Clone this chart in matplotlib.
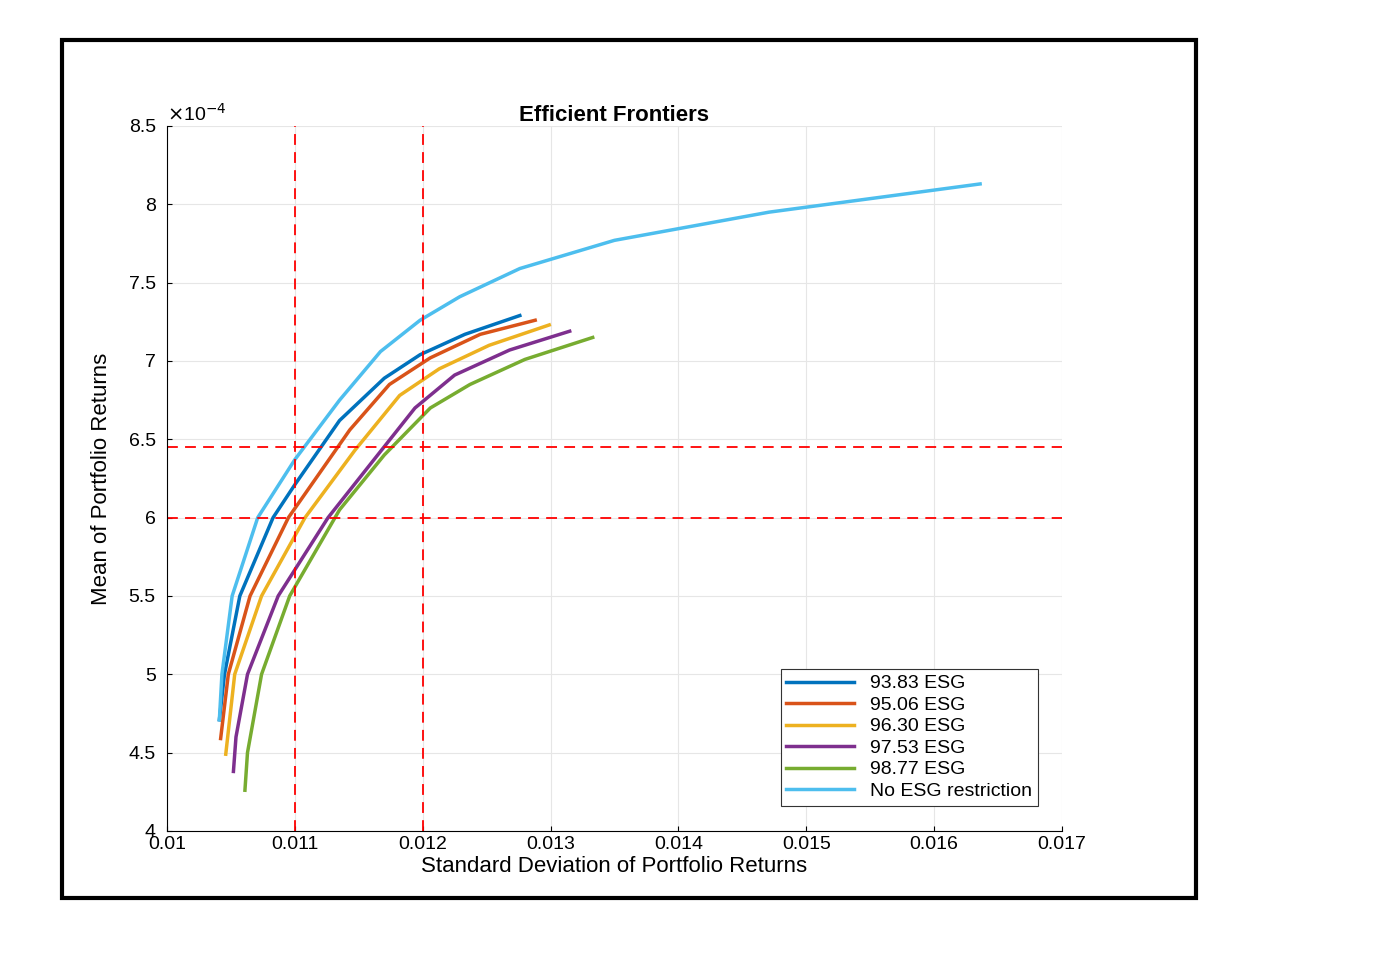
import matplotlib
matplotlib.use('Agg')
from matplotlib import pyplot as plt
from matplotlib.patches import Rectangle

plt.rcParams['font.family'] = ['Liberation Sans', 'DejaVu Sans']

# std dev / mean (x1e-4)
no_esg_x = [0.01041, 0.01043, 0.01051, 0.01071, 0.0110, 0.01135, 0.01167, 0.01198, 0.01229, 0.01276, 0.01350, 0.01471, 0.01636]
no_esg_y = [4.71, 5.0, 5.5, 6.0, 6.37, 6.75, 7.06, 7.26, 7.41, 7.59, 7.77, 7.95, 8.13]
esg9383_x = [0.01041, 0.01045, 0.01057, 0.01083, 0.0110, 0.01135, 0.0117, 0.01198, 0.01233, 0.01276]
esg9383_y = [4.71, 5.0, 5.5, 6.0, 6.21, 6.62, 6.89, 7.04, 7.17, 7.29]
esg9506_x = [0.01042, 0.01048, 0.01065, 0.01095, 0.01143, 0.01174, 0.01206, 0.01245, 0.01288]
esg9506_y = [4.59, 5.0, 5.5, 6.0, 6.56, 6.85, 7.02, 7.17, 7.26]
esg9630_x = [0.01046, 0.01053, 0.01074, 0.01108, 0.01147, 0.01182, 0.01213, 0.01252, 0.01299]
esg9630_y = [4.49, 5.0, 5.5, 6.0, 6.43, 6.78, 6.95, 7.10, 7.23]
esg9753_x = [0.01052, 0.01054, 0.01063, 0.01087, 0.01126, 0.01159, 0.01194, 0.01225, 0.01268, 0.01315]
esg9753_y = [4.38, 4.6, 5.0, 5.5, 6.0, 6.34, 6.70, 6.91, 7.07, 7.19]
esg9877_x = [0.01061, 0.01063, 0.01074, 0.01096, 0.01135, 0.0117, 0.01206, 0.01237, 0.0128, 0.01333]
esg9877_y = [4.26, 4.5, 5.0, 5.5, 6.05, 6.40, 6.70, 6.85, 7.01, 7.15]

vcuts = [0.011, 0.012]
hcuts = [6.45, 6.0]

fig = plt.figure(figsize=(13.82, 9.58), dpi=100)
fig.patches.append(Rectangle((62/1382, 1-898/958), 1134/1382, 858/958, transform=fig.transFigure,
                             fill=False, edgecolor='black', linewidth=3))
ax = fig.add_axes([0.1208, 0.1326, 0.6476, 0.7359])

series = [(esg9383_x, esg9383_y, '#0072BD', '93.83 ESG'),
          (esg9506_x, esg9506_y, '#D95319', '95.06 ESG'),
          (esg9630_x, esg9630_y, '#EDB120', '96.30 ESG'),
          (esg9753_x, esg9753_y, '#7E2F8E', '97.53 ESG'),
          (esg9877_x, esg9877_y, '#77AC30', '98.77 ESG'),
          (no_esg_x, no_esg_y, '#4DBEEE', 'No ESG restriction')]
for x, y, c, lab in series:
    ax.plot(x, y, color=c, linewidth=2.5, label=lab)

for v in vcuts:
    ax.axvline(v, color='red', linestyle=(0, (6, 4)), linewidth=1.3)
for h in hcuts:
    ax.axhline(h, color='red', linestyle=(0, (6, 4)), linewidth=1.3)

ax.set_xlim(0.01, 0.017)
ax.set_ylim(4, 8.5)
ax.set_xticks([0.01, 0.011, 0.012, 0.013, 0.014, 0.015, 0.016, 0.017])
ax.set_xticklabels(['0.01', '0.011', '0.012', '0.013', '0.014', '0.015', '0.016', '0.017'])
ax.set_yticks([4, 4.5, 5, 5.5, 6, 6.5, 7, 7.5, 8, 8.5])
ax.set_yticklabels(['4', '4.5', '5', '5.5', '6', '6.5', '7', '7.5', '8', '8.5'])
ax.tick_params(direction='in', labelsize=14, top=False, right=False)
ax.tick_params(axis='y', pad=8)
ax.grid(True, color='#e6e6e6', linewidth=0.8)
ax.spines['top'].set_visible(False)
ax.spines['right'].set_visible(False)
ax.set_xlabel('Standard Deviation of Portfolio Returns', fontsize=16, labelpad=2)
ax.set_ylabel('Mean of Portfolio Returns', fontsize=16, labelpad=12)
ax.set_title('Efficient Frontiers', fontsize=16, fontweight='bold', pad=2)
ax.text(0.0, 1.002, r'$\times$10$^{-4}$', transform=ax.transAxes, fontsize=14, va='bottom')
leg = ax.legend(loc='lower right', bbox_to_anchor=(0.984, 0.022), fontsize=14, fancybox=False,
                framealpha=1, edgecolor='#333333', handlelength=3.5, borderpad=0.3, labelspacing=0.2)
leg.get_frame().set_linewidth(0.8)

fig.savefig('out.png', dpi=100)
